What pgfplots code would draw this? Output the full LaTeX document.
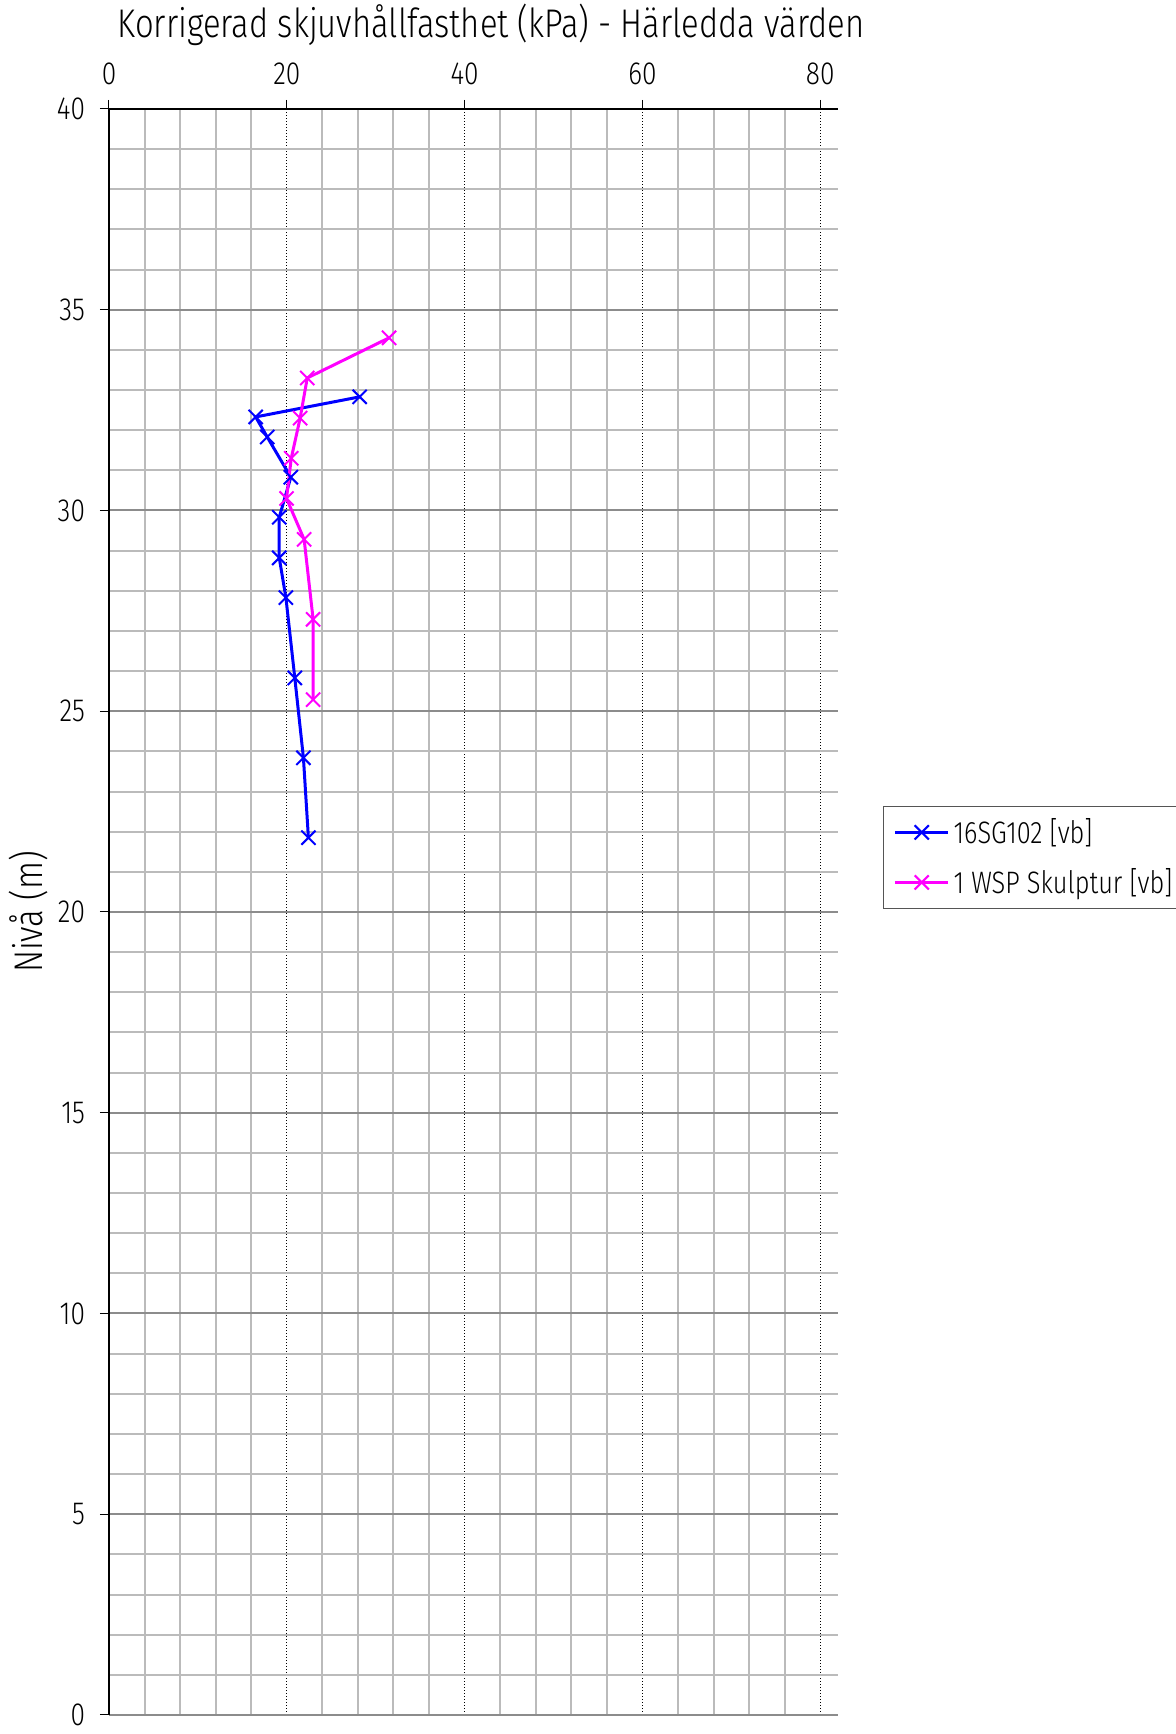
\documentclass[border=0pt]{standalone}
\usepackage{fontspec}
\setmainfont{Fira Sans}[UprightFont=* Light, FakeStretch=0.82]
\usepackage{pgfplots}
\pgfplotsset{compat=1.18}
\definecolor{mingrid}{HTML}{BBBBBB}
\definecolor{majgrid}{HTML}{8C8C8C}
\definecolor{legframe}{HTML}{555555}
\definecolor{serblue}{RGB}{0,0,255}
\definecolor{sermag}{RGB}{255,0,255}
\begin{document}
\begin{tikzpicture}
\begin{axis}[
  scale only axis,
  width=364.5pt, height=803pt,
  xmin=0, xmax=82, ymin=0, ymax=40,
  axis x line=top, axis y line=left,
  axis line style={-, black, line width=0.8pt},
  xtick={0,20,40,60,80}, minor xtick={4,8,12,16,24,28,32,36,44,48,52,56,64,68,72,76},
  ytick={0,5,...,40}, minor ytick={1,2,3,4,6,7,8,9,11,12,13,14,16,17,18,19,21,22,23,24,26,27,28,29,31,32,33,34,36,37,38,39},
  grid=both,
  major x grid style={black, line width=0.5pt, densely dotted},
  minor x grid style={mingrid, line width=1pt},
  major y grid style={majgrid, line width=1pt},
  minor y grid style={mingrid, line width=1pt},
  tick align=outside,
  major tick length=4.5pt, minor tick length=0pt,
  tick style={black, line width=0.5pt},
  /pgf/number format/assume math mode=true,
  ticklabel style={font=\fontsize{16}{18}\selectfont},
  xticklabel style={yshift=4pt},
  yticklabel style={xshift=-4pt},
  legend style={at={(rel axis cs:1.062,0.534)}, anchor=west, draw=legframe, line width=0.6pt,
    font=\fontsize{15.5}{17}\selectfont, inner xsep=5pt, inner ysep=4pt, row sep=7pt},
  legend cell align=left,
  legend image code/.code={\draw[#1] (0cm,0cm) -- (0.93cm,0cm); \draw[#1, only marks] plot coordinates {(0.465cm,0cm)};},
  clip=false,
]
\addplot[serblue, line width=1.5pt, mark=x, mark size=5pt, mark options={line width=1pt}] coordinates {
(28.2,32.83) (16.5,32.33) (17.8,31.83) (20.45,30.83) (19.15,29.83) (19.15,28.82) (19.9,27.83) (20.9,25.83) (21.87,23.84) (22.43,21.85)
};
\addlegendentry{16SG102 [vb]}
\addplot[sermag, line width=1.5pt, mark=x, mark size=5pt, mark options={line width=1pt}] coordinates {
(31.5,34.3) (22.3,33.3) (21.5,32.3) (20.5,31.3) (19.97,30.3) (21.95,29.28) (22.96,27.29) (22.96,25.29)
};
\addlegendentry{1 WSP Skulptur [vb]}
\node[font=\fontsize{20}{22}\selectfont, anchor=center] at ([yshift=42pt]rel axis cs:0.524,1) {Korrigerad skjuvhållfasthet (kPa) - Härledda värden};
\node[font=\fontsize{20}{22}\selectfont, anchor=center, rotate=90] at ([xshift=-40pt]rel axis cs:0,0.5) {Nivå (m)};
\end{axis}
\pgfresetboundingbox
\path (current axis.south west) ++(-54.5pt,-9.5pt) rectangle ++(588pt,867pt);
\end{tikzpicture}
\end{document}
